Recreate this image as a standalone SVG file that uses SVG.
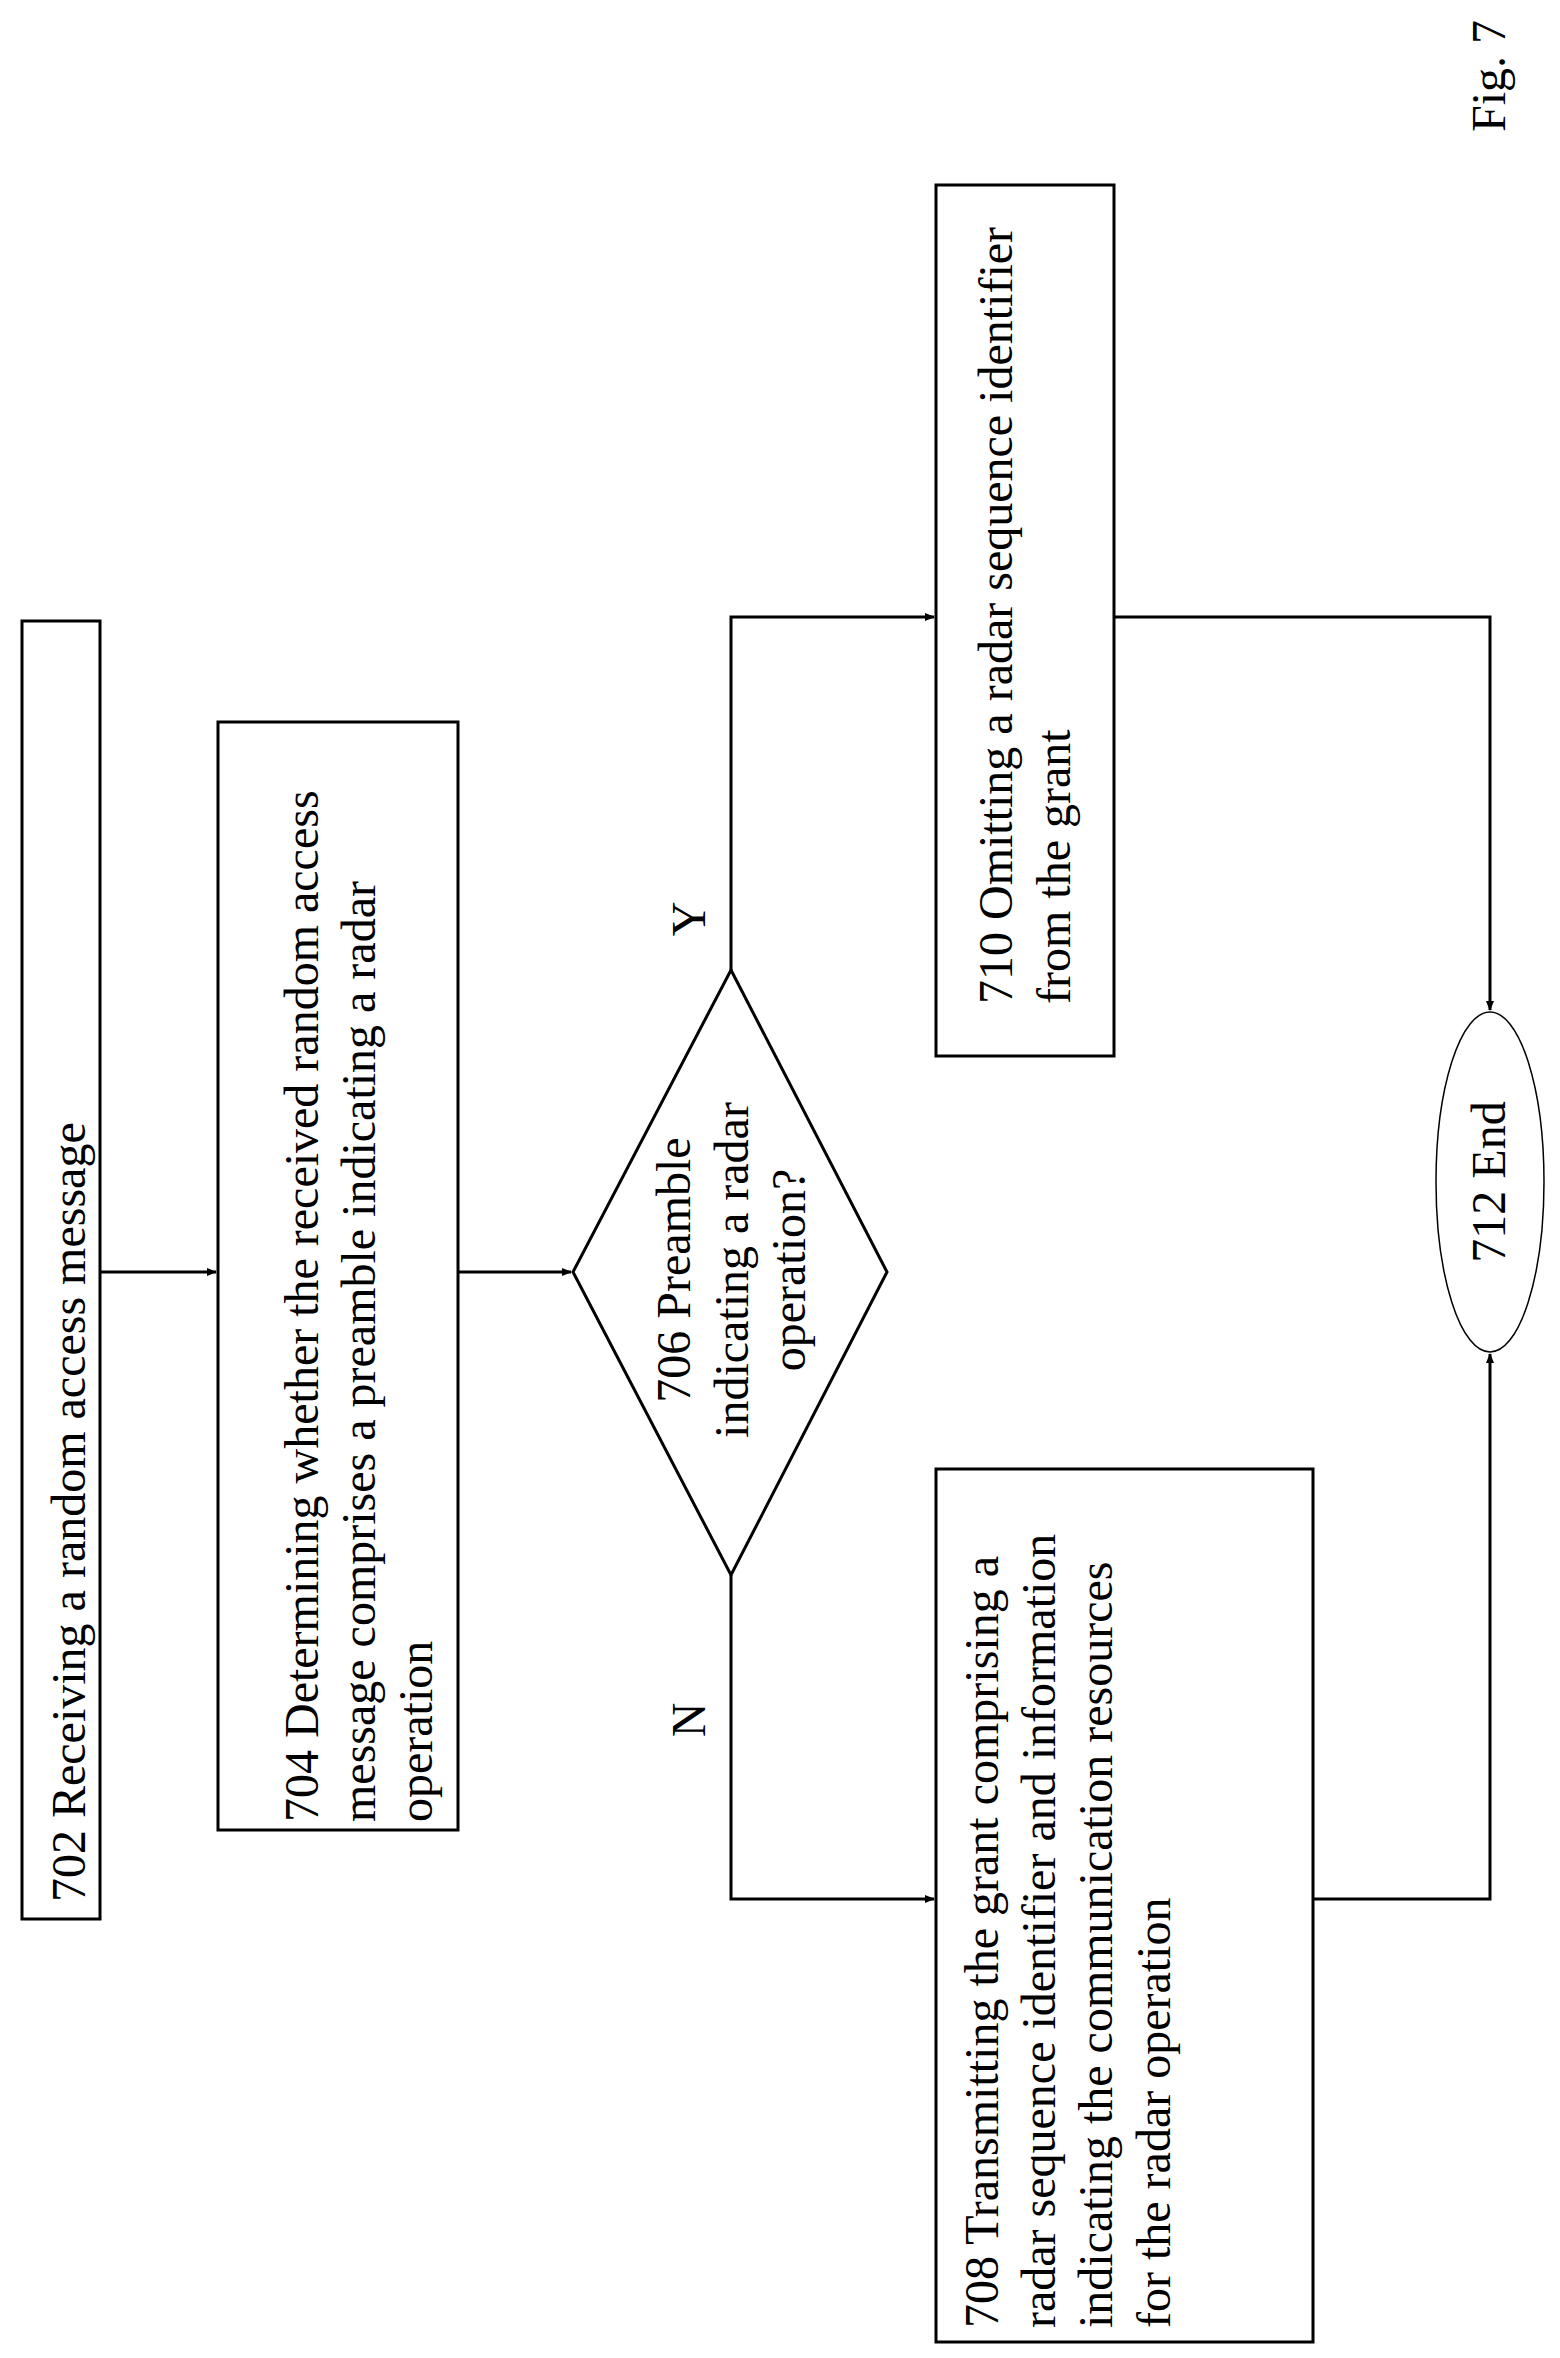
<svg xmlns="http://www.w3.org/2000/svg" width="1560" height="2358" viewBox="0 0 1560 2358">
<style>
.b{fill:#fff;stroke:#000;stroke-width:3}
.c{fill:none;stroke:#000;stroke-width:3}
text{font-family:"Liberation Serif","Times New Roman",serif;font-size:48px;fill:#000}
</style>
<defs><marker id="a" markerWidth="10" markerHeight="10" refX="9" refY="5" orient="auto" markerUnits="userSpaceOnUse"><path d="M0,1L10,5L0,9z" fill="#000"/></marker></defs>
<rect width="1560" height="2358" fill="#fff"/>
<g id="connectors">
<path class="c" d="M100,1272H216" marker-end="url(#a)"/>
<path class="c" d="M458,1272H571" marker-end="url(#a)"/>
<path class="c" d="M731,970V617H934" marker-end="url(#a)"/>
<path class="c" d="M731,1575V1899H934" marker-end="url(#a)"/>
<path class="c" d="M1114,617H1490V1010" marker-end="url(#a)"/>
<path class="c" d="M1313,1899H1490V1354" marker-end="url(#a)"/>
</g>
<g id="n702"><rect class="b" x="22" y="621" width="78" height="1298"/>
<text transform="translate(85,1902) rotate(-90)">702 Receiving  a  random  access  message</text></g>
<g id="n704"><rect class="b" x="218" y="722" width="240" height="1108"/>
<text transform="translate(318,1822) rotate(-90)">704 Determining  whether the received random  access</text>
<text transform="translate(375,1822) rotate(-90)">message  comprises  a preamble  indicating  a radar</text>
<text transform="translate(432,1822) rotate(-90)">operation</text></g>
<g id="n706"><path class="b" d="M731,970L887,1272L731,1575L573,1272Z"/>
<g text-anchor="middle"><text transform="translate(690,1270) rotate(-90)">706 Preamble</text>
<text transform="translate(748,1270) rotate(-90)">indicating  a radar</text>
<text transform="translate(805,1270) rotate(-90)">operation?</text></g></g>
<g id="n708"><rect class="b" x="936" y="1469" width="377" height="873"/>
<text transform="translate(998,2328) rotate(-90)">708 Transmitting  the grant comprising  a</text>
<text transform="translate(1055,2328) rotate(-90)">radar sequence identifier and information</text>
<text transform="translate(1112,2328) rotate(-90)">indicating  the communication  resources</text>
<text transform="translate(1170,2328) rotate(-90)">for the radar operation</text></g>
<g id="n710"><rect class="b" x="936" y="185" width="178" height="871"/>
<text transform="translate(1012,1004) rotate(-90)">710 Omitting  a radar sequence identifier</text>
<text transform="translate(1070,1004) rotate(-90)">from the grant</text></g>
<g id="n712"><ellipse cx="1490" cy="1182" rx="54" ry="170" fill="#fff" stroke="#000" stroke-width="1.5"/>
<text text-anchor="middle" transform="translate(1505,1182) rotate(-90)">712 End</text></g>
<text transform="translate(705,919) rotate(-90)" text-anchor="middle">Y</text>
<text transform="translate(705,1720) rotate(-90)" text-anchor="middle">N</text>
<text transform="translate(1505,132) rotate(-90)">Fig.  7</text>
</svg>
